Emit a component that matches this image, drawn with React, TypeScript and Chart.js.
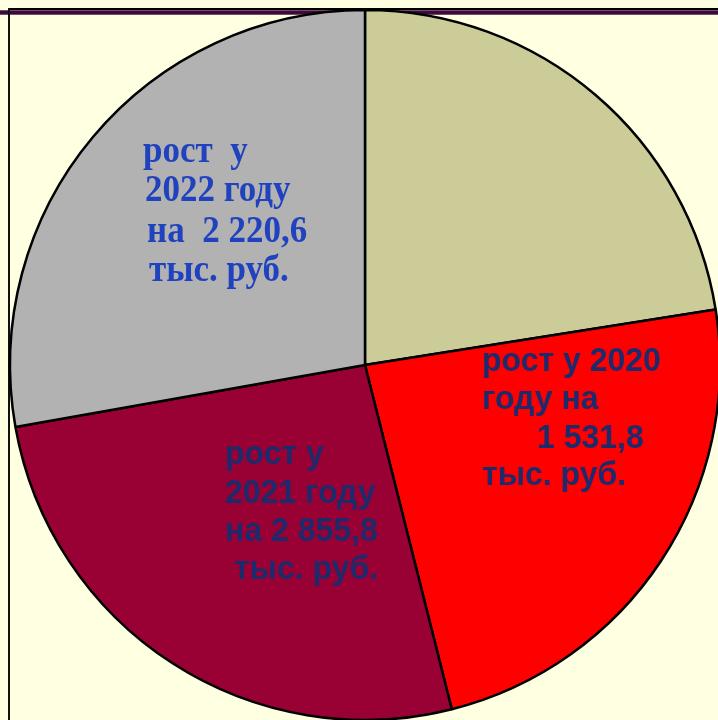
import React, { useEffect, useRef } from "react";
import { Chart, registerables } from "chart.js";

Chart.register(...registerables);

// Slice shares (clockwise from 12 o'clock)
const categories = ["2019", "2020", "2021", "2022"];
const sliceValues = [81.0, 84.85, 94.1, 100.05];
const sliceColors = ["#CCCC99", "#FF0000", "#990033", "#B2B2B2"];

const label2020 = ["рост у 2020", "году на", "1 531,8", "тыс. руб."];
const label2021 = ["рост у", "2021 году", "на 2 855,8", " тыс. руб."];
const label2022 = ["рост  у", "2022 году", "на  2 220,6", "тыс. руб."];

type LabelSpec = {
  lines: string[];
  dx: number[];
  dy: number[];
  font: string;
  color: string;
  scaleY: number;
};

const labelSpecs: LabelSpec[] = [
  {
    lines: label2020,
    dx: [117, 117, 172, 117],
    dy: [6, 44, 83, 120],
    font: "bold 32px 'Liberation Sans', Arial, sans-serif",
    color: "#1D2A6C",
    scaleY: 1.05,
  },
  {
    lines: label2021,
    dx: [-140, -140, -140, -140],
    dy: [99, 138, 176, 214],
    font: "bold 32px 'Liberation Sans', Arial, sans-serif",
    color: "#1D2A6C",
    scaleY: 1.05,
  },
  {
    lines: label2022,
    dx: [-222, -220, -218, -216],
    dy: [-203, -164, -123, -84],
    font: "bold 35px 'Liberation Serif', 'Times New Roman', serif",
    color: "#2142BE",
    scaleY: 1.1,
  },
];

const labelPlugin = {
  id: "sliceLabels",
  afterDatasetsDraw(chart: any) {
    const arc = chart.getDatasetMeta(0).data[0];
    if (!arc) return;
    const cx = arc.x;
    const cy = arc.y;
    const ctx = chart.ctx;
    ctx.textAlign = "left";
    ctx.textBaseline = "alphabetic";
    for (const spec of labelSpecs) {
      ctx.font = spec.font;
      ctx.fillStyle = spec.color;
      spec.lines.forEach((line, i) => {
        ctx.save();
        ctx.translate(cx + spec.dx[i], cy + spec.dy[i]);
        ctx.scale(1, spec.scaleY);
        ctx.fillText(line, 0, 0);
        ctx.restore();
      });
    }
  },
};

export default function App() {
  const ref = useRef<HTMLCanvasElement | null>(null);

  useEffect(() => {
    if (!ref.current) return;
    const chart = new Chart(ref.current, {
      type: "pie",
      data: {
        labels: categories,
        datasets: [
          {
            data: sliceValues,
            backgroundColor: sliceColors,
            borderColor: "#000000",
            borderWidth: 2.5,
            radius: 355,
          } as any,
        ],
      },
      options: {
        responsive: false,
        animation: false,
        layout: { padding: { left: 12, top: 10, right: 0, bottom: 0 } },
        plugins: {
          legend: { display: false },
          tooltip: { enabled: false },
        },
      },
      plugins: [labelPlugin],
    });
    return () => chart.destroy();
  }, []);

  return (
    <div
      style={{
        position: "fixed",
        left: 0,
        top: 0,
        width: 718,
        height: 720,
        background: "#FFFFE1",
        overflow: "hidden",
      }}
    >
      <div
        style={{
          position: "absolute",
          left: 8,
          top: 8,
          width: 710,
          height: 2,
          background: "#000000",
        }}
      />
      <div
        style={{
          position: "absolute",
          left: 0,
          top: 10,
          width: 718,
          height: 3,
          background: "#3A0C3A",
          borderTop: "1px solid #7A4A6E",
          borderBottom: "1px solid #7A4A6E",
        }}
      />
      <div
        style={{
          position: "absolute",
          left: 8,
          top: 8,
          width: 2,
          height: 712,
          background: "#111111",
        }}
      />
      <canvas
        ref={ref}
        width={718}
        height={720}
        style={{ position: "absolute", left: 0, top: 0 }}
      />
    </div>
  );
}
